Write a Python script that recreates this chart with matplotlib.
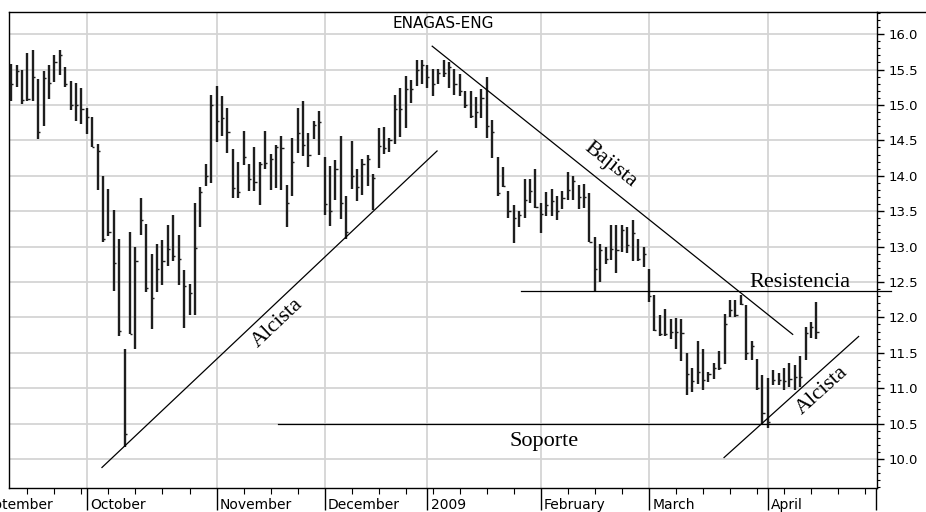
import matplotlib
matplotlib.use("Agg")
import matplotlib.pyplot as plt
import numpy as np

# daily bars, Sep 2008 - Apr 2009 (one per trading day)
highs = [15.58, 15.56, 15.49, 15.73, 15.77, 15.36, 15.48, 15.56, 15.70, 15.77,
         15.54, 15.34, 15.31, 15.24, 14.95, 14.83, 14.45, 14.00, 13.82, 13.51,
         13.10, 11.55, 13.21, 13.00,
         13.68, 13.32, 12.90, 13.04, 13.09, 13.30, 13.45, 13.16, 12.67, 12.47,
         13.62, 13.84, 14.16, 15.14, 15.27, 15.13, 14.95, 14.38, 14.19, 14.63,
         14.16, 14.41, 14.19, 14.63, 14.31,
         14.44, 14.56, 13.87, 14.54, 14.96, 15.06, 14.61, 14.77, 14.91, 14.26,
         14.14, 14.22, 14.56, 13.72, 14.49, 14.10, 14.23, 14.29, 14.03, 14.67,
         14.69, 14.54, 15.14, 15.24, 15.41,
         15.35, 15.63, 15.63, 15.57, 15.51, 15.51, 15.63, 15.60, 15.51, 15.44,
         15.20, 15.20, 15.11, 15.23, 15.39, 14.79, 14.26, 14.12, 13.79, 13.58,
         13.50, 13.95, 13.96, 14.10, 13.61,
         13.77, 13.81, 13.72, 13.79, 14.05, 14.00, 13.87, 13.88, 13.75, 13.13,
         13.03, 12.99, 13.30, 13.30, 13.31, 13.28, 13.37, 13.10, 13.00, 12.69,
         12.32, 12.04, 12.12, 11.98, 11.99,
         11.98, 11.50, 11.28, 11.66, 11.55, 11.23, 11.35, 11.52, 12.05, 12.25,
         12.25, 12.32, 12.17, 11.66, 11.41, 11.18, 11.15, 11.25, 11.22, 11.28,
         11.36, 11.33, 11.45, 11.87, 11.93, 12.22]
lows = [15.06, 15.26, 15.01, 15.06, 15.06, 14.52, 14.70, 15.08, 15.33, 15.42,
        15.26, 14.93, 14.77, 14.73, 14.59, 14.40, 13.80, 13.06, 13.15, 12.37,
        11.73, 10.17, 11.76, 11.56,
        13.17, 12.36, 11.83, 12.36, 12.46, 12.73, 12.80, 12.46, 11.85, 12.04,
        12.04, 13.27, 13.85, 13.90, 14.47, 14.56, 14.32, 13.69, 13.69, 14.15,
        13.78, 13.78, 13.58, 14.10, 13.80,
        13.83, 13.80, 13.27, 13.71, 14.32, 14.28, 14.13, 14.52, 14.29, 13.44,
        13.29, 13.66, 13.39, 13.10, 13.82, 13.64, 13.73, 13.86, 13.51, 14.11,
        14.31, 14.33, 14.45, 14.55, 14.67,
        15.03, 15.27, 15.30, 15.24, 15.12, 15.30, 15.39, 15.24, 15.14, 15.12,
        14.95, 14.82, 14.68, 14.82, 14.53, 14.25, 13.72, 13.84, 13.40, 13.05,
        13.28, 13.40, 13.61, 13.54, 13.19,
        13.43, 13.43, 13.38, 13.53, 13.66, 13.66, 13.53, 13.54, 13.07, 12.36,
        12.50, 12.75, 12.81, 12.62, 12.93, 12.91, 12.79, 12.79, 12.71, 12.21,
        11.81, 11.73, 11.73, 11.69, 11.56,
        11.38, 10.90, 10.94, 11.06, 10.98, 11.09, 11.13, 11.26, 11.34, 12.01,
        12.00, 12.17, 11.40, 11.40, 10.97, 10.48, 10.44, 11.04, 11.05, 10.98,
        11.01, 10.97, 11.01, 11.40, 11.71, 11.69]
closes = [15.30, 15.48, 15.07, 15.08, 15.40, 14.62, 15.38, 15.31, 15.60, 15.70,
          15.30, 15.00, 15.00, 14.94, 14.83, 14.40, 14.35, 13.10, 13.20, 12.77,
          11.81, 10.35, 11.77, 12.80,
          13.38, 12.42, 12.27, 12.69, 12.80, 12.97, 12.86, 12.82, 12.45, 12.35,
          12.98, 13.77, 14.00, 15.00, 14.77, 14.82, 14.62, 13.83, 13.77, 14.26,
          13.95, 13.91, 14.17, 14.18, 14.23,
          14.40, 14.39, 13.61, 14.19, 14.60, 14.43, 14.30, 14.72, 14.76, 13.60,
          13.50, 14.10, 13.61, 13.20, 14.00, 13.84, 14.16, 14.23, 13.97, 14.42,
          14.39, 14.51, 14.94, 14.94, 15.23,
          15.22, 15.50, 15.57, 15.40, 15.30, 15.45, 15.45, 15.53, 15.30, 15.20,
          15.00, 14.85, 14.90, 15.10, 14.70, 14.62, 13.75, 13.86, 13.50, 13.41,
          13.45, 13.66, 13.78, 13.56, 13.46,
          13.59, 13.65, 13.50, 13.68, 13.80, 13.93, 13.70, 13.70, 13.07, 12.69,
          12.95, 12.83, 12.97, 12.95, 13.23, 13.02, 13.19, 12.83, 12.90, 12.30,
          11.82, 11.76, 11.76, 11.80, 11.79,
          11.78, 11.20, 11.10, 11.23, 11.12, 11.20, 11.28, 11.28, 11.90, 12.10,
          12.03, 12.19, 11.50, 11.59, 11.00, 10.65, 10.52, 11.11, 11.12, 11.10,
          11.13, 11.16, 11.16, 11.78, 11.86, 11.80]

month_labels = ["October", "November", "December", "2009",
                "February", "March", "April", ""]
month_pos = [14, 38, 58, 77, 98, 118, 140, 160]

# trend lines drawn on the chart
alcista1_x, alcista1_y = [16.8, 78.8], [9.88, 14.35]
bajista_x, bajista_y = [77.9, 144.6], [15.83, 11.76]
alcista2_x, alcista2_y = [131.9, 156.8], [10.02, 11.73]
resist_x, resist_y = [94.4, 162.7], [12.37, 12.37]
soporte_x, soporte_y = [49.4, 160.2], [10.5, 10.5]

x = np.arange(len(highs))

fig = plt.figure(figsize=(9.26, 5.12), dpi=100)
ax = fig.add_axes([9 / 926, 24 / 512, 868 / 926, 476.5 / 512])

# right price axis
ax.yaxis.tick_right()
ax.set_yticks(np.arange(10.0, 16.01, 0.5))
ax.set_yticklabels([f"{v:.1f}" for v in np.arange(10.0, 16.01, 0.5)])
ax.set_yticks(np.arange(9.6, 16.31, 0.1), minor=True)
ax.tick_params(axis="y", which="major", direction="out", length=5, width=1,
               labelsize=9.5, pad=3)
ax.tick_params(axis="y", which="minor", direction="out", length=2.5, width=0.8)

# date axis
ax.set_xticks(month_pos)
ax.set_xticklabels([])
ax.set_xticks(np.arange(3, 160, 5), minor=True)
ax.tick_params(axis="x", which="major", direction="out", length=16, width=1)
ax.tick_params(axis="x", which="minor", direction="out", length=4, width=0.8)

ax.set_xlim(-0.4, 160.2)
ax.set_ylim(9.59, 16.32)

# grid
for v in np.arange(10.0, 16.01, 0.5):
    ax.axhline(v, color="#d4d4d4", lw=1.3, zorder=0)
for p in month_pos[:-1]:
    ax.axvline(p, color="#d4d4d4", lw=1.3, zorder=0)

# bars
ax.vlines(x, lows, highs, color="#1e1e1e", lw=1.7, zorder=3)
ax.hlines(closes, x, x + 0.4, color="#1e1e1e", lw=1.0, zorder=3)

# trend lines
kw = dict(color="black", lw=0.9, zorder=4)
ax.plot(alcista1_x, alcista1_y, **kw)
ax.plot(bajista_x, bajista_y, **kw)
ax.plot(alcista2_x, alcista2_y, **kw)
ax.plot(resist_x, resist_y, clip_on=False, **kw)
ax.plot(soporte_x, soporte_y, **kw)


def angle(xs, ys):
    p = ax.transData.transform(np.column_stack([xs, ys]))
    return np.degrees(np.arctan2(p[1, 1] - p[0, 1], p[1, 0] - p[0, 0]))


serif = dict(family="Liberation Serif", fontsize=16, zorder=5)
ax.text(146.0, 12.43, "Resistencia", ha="center", va="baseline", **serif)
ax.text(98.6, 10.18, "Soporte", ha="center", va="baseline", **serif)
ax.text(110.8, 14.15, "Bajista", ha="center", va="center",
        rotation=angle(bajista_x, bajista_y), rotation_mode="anchor", **serif)
ax.text(49.2, 11.92, "Alcista", ha="center", va="center",
        rotation=angle(alcista1_x, alcista1_y), rotation_mode="anchor", **serif)
ax.text(150.0, 10.96, "Alcista", ha="center", va="center",
        rotation=angle(alcista2_x, alcista2_y), rotation_mode="anchor", **serif)

ax.text(0.5, 0.975, "ENAGAS-ENG", transform=ax.transAxes, ha="center",
        va="center", fontsize=11, color="black")

# month names sit just right of their tick
xt = ax.get_xaxis_transform()
for p, lab in zip(month_pos, month_labels):
    if lab:
        ax.text(p + 0.6, -0.036, lab, transform=xt, ha="left", va="center",
                fontsize=10, clip_on=False)
ax.text(7.7, -0.036, "September", transform=xt, ha="right", va="center",
        fontsize=10, clip_on=False)

for s in ax.spines.values():
    s.set_linewidth(1.0)

# top frame line continues to the right edge
fig.add_artist(plt.Line2D([877 / 926, 1.0], [500.5 / 512, 500.5 / 512],
                          color="black", lw=1.0))

fig.savefig("out.png", dpi=100)
